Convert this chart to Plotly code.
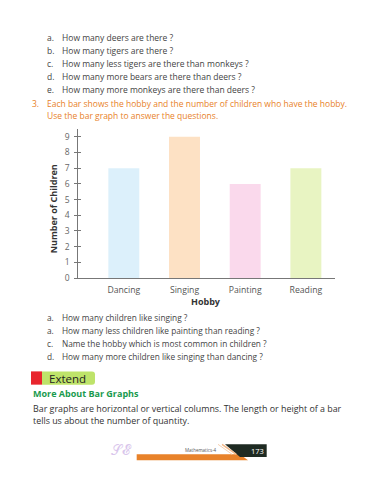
import plotly.graph_objects as go

hobbies = ["Dancing", "Singing", "Painting", "Reading"]
children = [7, 9, 6, 7]
bar_colors = ["#DCF0FB", "#FDE1C4", "#FAD9EC", "#E8F4C2"]
y_ticks = [0, 1, 2, 3, 4, 5, 6, 7, 8, 9]

questions_top = [
    ("a.", "How many deers are there ?"),
    ("b.", "How many tigers are there ?"),
    ("c.", "How many less tigers are there than monkeys ?"),
    ("d.", "How many more bears are there than deers ?"),
    ("e.", "How many more monkeys are there than deers ?"),
]
questions_bottom = [
    ("a.", "How many children like singing ?"),
    ("a.", "How many less children like painting than reading ?"),
    ("c.", "Name the hobby which is most common in children ?"),
    ("d.", "How many more children like singing than dancing ?"),
]

W, H = 375, 480
FONT = "Open Sans"


def px(x):
    return x / W


def py(y):
    return 1 - y / H


fig = go.Figure()
fig.add_trace(go.Bar(
    x=hobbies, y=children, marker=dict(color=bar_colors, line=dict(width=0)),
    width=0.51, showlegend=False, hoverinfo="x+y"
))

x0, x1 = 78.3, 335
y0, y1 = 130, 281
fig.update_layout(
    width=W, height=H, margin=dict(l=0, r=0, t=0, b=0),
    paper_bgcolor="white", plot_bgcolor="white",
    font=dict(family=FONT, color="#444"),
    xaxis=dict(
        domain=[px(x0), px(x1)], range=[-0.75, 3.48],
        showline=True, linecolor="#777", linewidth=1,
        ticks="", showgrid=False, zeroline=False,
        tickfont=dict(size=8.7, color="#555"), ticklabelstandoff=3,
        fixedrange=True,
    ),
    yaxis=dict(
        domain=[py(y1), py(y0)], range=[0, 9.52],
        tickvals=y_ticks, showline=True, linecolor="#777", linewidth=1,
        ticks="outside", ticklen=3, tickcolor="#777", tickwidth=1,
        showgrid=False, zeroline=False,
        tickfont=dict(size=8.5, color="#666"), ticklabelstandoff=3,
        fixedrange=True,
    ),
    yaxis2=dict(
        overlaying="y", range=[0, 9.52], tickvals=y_ticks,
        showticklabels=False, ticks="inside", ticklen=3, tickcolor="#777",
        showline=False, showgrid=False, zeroline=False, anchor="x",
    ),
)
fig.add_trace(go.Scatter(x=[hobbies[0]], y=[0], yaxis="y2", mode="markers",
                         marker=dict(opacity=0), showlegend=False, hoverinfo="skip"))

ann = []
# axis titles
ann.append(dict(x=px(53), y=py(211.5), text="<b>Number of Children</b>", textangle=-90,
                xanchor="center", yanchor="middle", font=dict(size=9, color="#333")))
ann.append(dict(x=px(206), y=py(304.3), text="<b>Hobby</b>",
                xanchor="center", yanchor="middle", font=dict(size=9, color="#333")))

qtop = [38, 51, 64.3, 77.7, 90.7]
for (lab, txt), yy in zip(questions_top, qtop):
    ann.append(dict(x=px(45), y=py(yy), text=lab, xanchor="left", yanchor="middle",
                    font=dict(size=8.5, color="#444")))
    ann.append(dict(x=px(60), y=py(yy), text=txt, xanchor="left", yanchor="middle",
                    font=dict(size=8.5, color="#444")))

orange = "#E8822A"
ann.append(dict(x=px(30), y=py(104.7), text="3.", xanchor="left", yanchor="middle",
                font=dict(size=8.5, color=orange)))
ann.append(dict(x=px(45), y=py(104.7),
                text="Each bar shows the hobby and the number of children who have the hobby.",
                xanchor="left", yanchor="middle", font=dict(size=8.5, color=orange)))
ann.append(dict(x=px(45), y=py(116.7), text="Use the bar graph to answer the questions.",
                xanchor="left", yanchor="middle", font=dict(size=8.5, color=orange)))

qbot = [320.7, 333.7, 347, 360]
for (lab, txt), yy in zip(questions_bottom, qbot):
    ann.append(dict(x=px(45), y=py(yy), text=lab, xanchor="left", yanchor="middle",
                    font=dict(size=8.3, color="#444")))
    ann.append(dict(x=px(60), y=py(yy), text=txt, xanchor="left", yanchor="middle",
                    font=dict(size=8.3, color="#444")))

# Extend header
ann.append(dict(x=px(47), y=py(382), text="Extend", xanchor="left", yanchor="middle",
                font=dict(size=11.5, color="#222")))
ann.append(dict(x=px(31), y=py(397.5), text="<b>More About Bar Graphs</b>", xanchor="left",
                yanchor="middle", font=dict(size=9, color="#1A9A4E")))
ann.append(dict(x=px(31), y=py(412.7),
                text="Bar graphs are horizontal or vertical columns. The length or height of a bar",
                xanchor="left", yanchor="middle", font=dict(size=8.9, color="#333")))
ann.append(dict(x=px(31), y=py(425.3),
                text="tells us about the number of quantity.",
                xanchor="left", yanchor="middle", font=dict(size=8.9, color="#333")))

# footer
ann.append(dict(x=px(201), y=py(454.5), text="Mathematics-4", xanchor="center", yanchor="middle",
                font=dict(size=4.5, color="#555")))
ann.append(dict(x=px(257.5), y=py(455.5), text="173", xanchor="center", yanchor="middle",
                font=dict(size=7.5, color="white")))
ann.append(dict(x=px(122), y=py(454), text="𝒮𝓔", xanchor="center", yanchor="middle",
                font=dict(size=14, color="#D9C6EC")))

for a in ann:
    a.update(xref="paper", yref="paper", showarrow=False)
fig.update_layout(annotations=ann)

shapes = [
    dict(type="path",
         path=f"M {px(42)} {py(375.3)} L {px(92)} {py(375.3)} Q {px(95)} {py(375.3)} {px(95)} {py(378.3)} "
              f"L {px(95)} {py(385.7)} Q {px(95)} {py(388.7)} {px(92)} {py(388.7)} L {px(42)} {py(388.7)} Z",
         fillcolor="#BEE36A", line=dict(width=0)),
    dict(type="rect", x0=px(31), x1=px(42), y0=py(388.7), y1=py(375.3),
         fillcolor="#E8252D", line=dict(width=0)),
    dict(type="path",
         path=f"M {px(136.7)} {py(459)} L {px(240)} {py(459)} L {px(248)} {py(465)} L {px(136.7)} {py(465)} Z",
         fillcolor="#E8822A", line=dict(width=0)),
    dict(type="path",
         path=f"M {px(225)} {py(449)} L {px(266.7)} {py(449)} L {px(266.7)} {py(461.7)} L {px(240)} {py(461.7)} Z",
         fillcolor="#1E2A22", line=dict(width=0)),
    dict(type="line", x0=px(222), x1=px(236), y0=py(449), y1=py(459),
         line=dict(color="#F2B98A", width=1.5)),
    dict(type="line", x0=px(218), x1=px(232), y0=py(449), y1=py(459),
         line=dict(color="#F6D0B0", width=1)),
]
for s in shapes:
    s.update(xref="paper", yref="paper", layer="below")
fig.update_layout(shapes=shapes)

fig.write_html("out.html")
